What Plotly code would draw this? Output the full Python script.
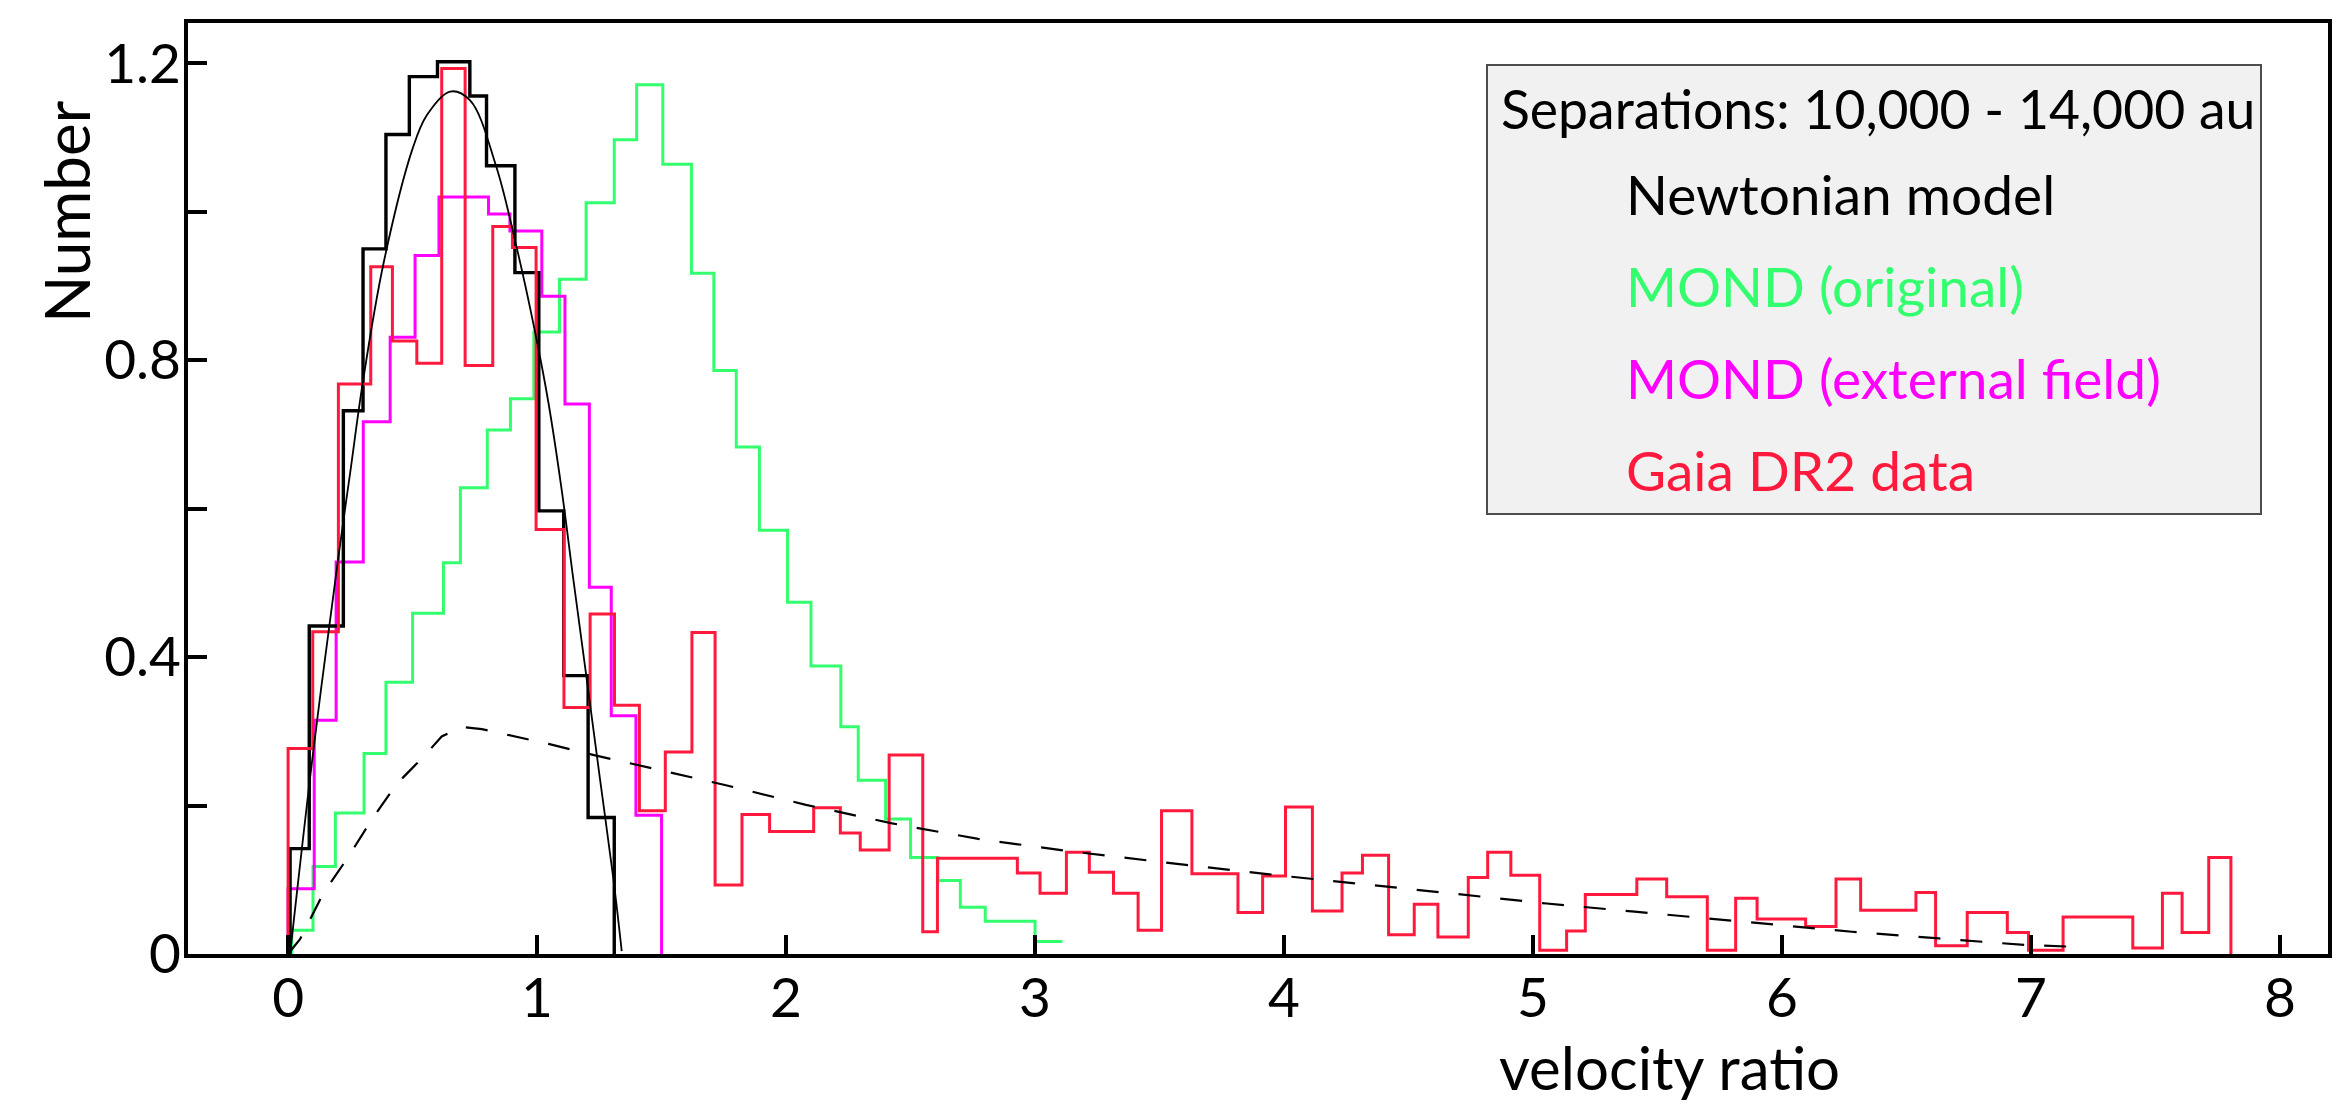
import plotly.graph_objects as go

# ---- Histogram data: bin edges and heights (Number per bin) ----
newton_edges = [0.008, 0.085, 0.222, 0.301, 0.393, 0.487, 0.600, 0.730, 0.797,
                0.911, 1.007, 1.107, 1.205, 1.310]
newton_counts = [0.142, 0.442, 0.732, 0.950, 1.104, 1.182, 1.202, 1.156, 1.062,
                 0.918, 0.597, 0.375, 0.184]

mond_orig_edges = [0.015, 0.100, 0.190, 0.305, 0.393, 0.500, 0.624, 0.692, 0.800,
                   0.893, 0.987, 1.090, 1.197, 1.310, 1.400, 1.505, 1.620, 1.710,
                   1.800, 1.893, 2.006, 2.100, 2.220, 2.290, 2.400, 2.500, 2.610,
                   2.700, 2.800, 3.000, 3.110]
mond_orig_counts = [0.032, 0.118, 0.190, 0.270, 0.366, 0.459, 0.527, 0.628, 0.706,
                    0.748, 0.838, 0.909, 1.012, 1.097, 1.171, 1.064, 0.917, 0.786,
                    0.683, 0.571, 0.474, 0.388, 0.306, 0.234, 0.182, 0.130, 0.099,
                    0.063, 0.044, 0.017]

mond_ext_edges = [0.000, 0.105, 0.193, 0.302, 0.410, 0.510, 0.606, 0.805, 0.891,
                  1.019, 1.112, 1.210, 1.298, 1.397, 1.500]
mond_ext_counts = [0.088, 0.315, 0.528, 0.717, 0.831, 0.941, 1.020, 0.997, 0.974,
                   0.886, 0.741, 0.494, 0.321, 0.187]

gaia_edges = [0.000, 0.099, 0.202, 0.332, 0.419, 0.517, 0.617, 0.711, 0.822, 0.901,
              0.996, 1.108, 1.213, 1.311, 1.411, 1.515, 1.622, 1.715, 1.823, 1.934,
              2.111, 2.218, 2.298, 2.414, 2.549, 2.608, 2.929, 3.020, 3.126, 3.218,
              3.315, 3.414, 3.508, 3.630, 3.815, 3.914, 4.006, 4.114, 4.233, 4.315,
              4.420, 4.523, 4.618, 4.740, 4.818, 4.911, 5.027, 5.135, 5.210, 5.417,
              5.537, 5.700, 5.814, 5.900, 6.095, 6.217, 6.316, 6.538, 6.617, 6.744,
              6.905, 6.990, 7.129, 7.409, 7.528, 7.607, 7.714, 7.803]
gaia_counts = [0.277, 0.434, 0.768, 0.926, 0.826, 0.796, 1.193, 0.793, 0.980, 0.952,
               0.572, 0.332, 0.458, 0.335, 0.193, 0.272, 0.433, 0.093, 0.188, 0.165,
               0.197, 0.163, 0.140, 0.268, 0.030, 0.129, 0.109, 0.082, 0.137, 0.110,
               0.082, 0.032, 0.193, 0.108, 0.056, 0.105, 0.198, 0.058, 0.109, 0.133,
               0.026, 0.067, 0.023, 0.103, 0.137, 0.106, 0.005, 0.031, 0.080, 0.101,
               0.077, 0.005, 0.075, 0.047, 0.037, 0.101, 0.059, 0.083, 0.011, 0.056,
               0.029, 0.005, 0.050, 0.008, 0.082, 0.029, 0.130]

# ---- Smooth Newtonian fit (solid) ----
fit_x = [0.008, 0.10, 0.20, 0.25, 0.30, 0.383, 0.50, 0.557, 0.651, 0.731, 0.835,
         0.918, 0.992, 1.046, 1.099, 1.146, 1.200, 1.253, 1.307, 1.340]
fit_y = [0.000, 0.270, 0.530, 0.650, 0.770, 0.930, 1.085, 1.130, 1.162, 1.150, 1.062,
         0.952, 0.838, 0.742, 0.625, 0.504, 0.369, 0.235, 0.100, 0.004]

# ---- Broad model curve (dashed) ----
dash_x = [0.000, 0.048, 0.142, 0.242, 0.336, 0.436, 0.550, 0.617, 0.697, 0.778,
          0.872, 1.046, 1.216, 1.387, 1.561, 1.750, 2.080, 2.426, 2.772, 3.126,
          3.480, 3.826, 4.003, 4.350, 4.702, 5.055, 5.408, 5.757, 6.017, 6.281,
          6.630, 6.980, 7.152]
dash_y = [0.000, 0.020, 0.082, 0.131, 0.181, 0.229, 0.268, 0.293, 0.306, 0.303,
          0.296, 0.283, 0.269, 0.256, 0.243, 0.228, 0.201, 0.176, 0.155, 0.139,
          0.125, 0.112, 0.105, 0.093, 0.081, 0.068, 0.057, 0.046, 0.038, 0.030,
          0.021, 0.012, 0.010]

x_ticks = [0, 1, 2, 3, 4, 5, 6, 7, 8]
y_ticks = [0, 0.2, 0.4, 0.6, 0.8, 1.0, 1.2]
y_ticktext = ["0", "", "0.4", "", "0.8", "", "1.2"]

legend_title = "Separations: 10,000 - 14,000 au"
legend_items = ["Newtonian model", "MOND (original)", "MOND (external field)", "Gaia DR2 data"]

BLACK = "#000000"
GREEN = "#33ff6e"
MAGENTA = "#ff00ff"
RED = "#ff1a3d"
FONT = "Lato"

W, H = 2350, 1105
ML, MR, MT, MB = 188, 22, 23, 151
PW, PH = W - ML - MR, H - MT - MB


def step_path(edges, counts, close_end=True):
    """Outline of a histogram as an 'hv' step line, rising from zero."""
    xs = [edges[0]] + list(edges[:-1]) + [edges[-1]]
    ys = [0.0] + list(counts) + [counts[-1]]
    if close_end:
        xs.append(edges[-1])
        ys.append(0.0)
    return xs, ys


def px(x, y):
    """Convert page pixels to paper coordinates."""
    return (x - ML) / PW, (H - MB - y) / PH


fig = go.Figure()

gx, gy = step_path(mond_orig_edges, mond_orig_counts, close_end=False)
fig.add_trace(go.Scatter(x=gx, y=gy, mode="lines", line_shape="hv",
                         line=dict(color=GREEN, width=3), name=legend_items[1]))

mx, my = step_path(mond_ext_edges, mond_ext_counts)
fig.add_trace(go.Scatter(x=mx, y=my, mode="lines", line_shape="hv",
                         line=dict(color=MAGENTA, width=3), name=legend_items[2]))

nx, ny = step_path(newton_edges, newton_counts)
fig.add_trace(go.Scatter(x=nx, y=ny, mode="lines", line_shape="hv",
                         line=dict(color=BLACK, width=3.4), name=legend_items[0]))

rx, ry = step_path(gaia_edges, gaia_counts)
fig.add_trace(go.Scatter(x=rx, y=ry, mode="lines", line_shape="hv",
                         line=dict(color=RED, width=3), name=legend_items[3]))

fig.add_trace(go.Scatter(x=fit_x, y=fit_y, mode="lines", line_shape="spline",
                         line=dict(color=BLACK, width=1.8), name="fit"))

fig.add_trace(go.Scatter(x=dash_x, y=dash_y, mode="lines",
                         line=dict(color=BLACK, width=2.2, dash="22px,20px"),
                         name="model"))

axis_common = dict(
    showline=True, linewidth=4, linecolor=BLACK, mirror=True,
    ticks="inside", ticklen=19, tickwidth=3.5, tickcolor=BLACK,
    showgrid=False, zeroline=False,
    tickfont=dict(family=FONT, size=55, color=BLACK),
)

fig.update_layout(
    width=W, height=H,
    margin=dict(l=ML, r=MR, t=MT, b=MB),
    paper_bgcolor="white", plot_bgcolor="white",
    showlegend=False,
    xaxis=dict(range=[-0.402, 8.193], tickmode="array", tickvals=x_ticks,
               ticklabelstandoff=-7, **axis_common),
    yaxis=dict(range=[0, 1.2543], tickmode="array", tickvals=y_ticks,
               ticktext=y_ticktext, ticklabelstandoff=-8, **axis_common),
)

# legend panel
x0, y0 = px(1487, 514)
x1, y1 = px(2261, 65)
fig.add_shape(type="rect", xref="paper", yref="paper", x0=x0, y0=y0, x1=x1, y1=y1,
              fillcolor="#f1f1f1", line=dict(color="#4d4d4d", width=2), layer="above")

tx, ty = px(1499, 108)
fig.add_annotation(text=legend_title, xref="paper", yref="paper", x=tx, y=ty,
                   xanchor="left", yanchor="middle", showarrow=False,
                   font=dict(family=FONT, size=53.5, color=BLACK))
for label, color, ymid in zip(legend_items, [BLACK, GREEN, MAGENTA, RED],
                              [194, 286, 378, 470]):
    lx, ly = px(1624, ymid)
    fig.add_annotation(text=label, xref="paper", yref="paper", x=lx, y=ly,
                       xanchor="left", yanchor="middle", showarrow=False,
                       font=dict(family=FONT, size=55, color=color))

# axis titles
ax_, ay_ = px(66, 212)
fig.add_annotation(text="Number", xref="paper", yref="paper", x=ax_, y=ay_,
                   xanchor="center", yanchor="middle", textangle=-90, showarrow=False,
                   font=dict(family=FONT, size=62, color=BLACK))
bx_, by_ = px(1669, 1067)
fig.add_annotation(text="velocity ratio", xref="paper", yref="paper", x=bx_, y=by_,
                   xanchor="center", yanchor="middle", showarrow=False,
                   font=dict(family=FONT, size=60, color=BLACK))

fig.write_html("out.html")
